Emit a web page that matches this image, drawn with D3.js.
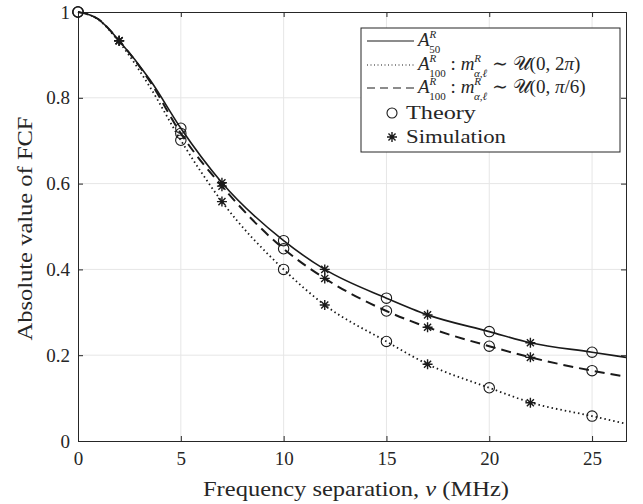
<!DOCTYPE html>
<html lang="en">
<head>
    <meta charset="UTF-8">
    <title>FCF vs frequency separation</title>
    <script src="https://cdnjs.cloudflare.com/ajax/libs/d3/7.8.5/d3.js"></script>
    <style>
        body { margin: 0; background: #fff; }
    </style>
</head>
<body>
    <svg width="643" height="504"></svg>

    <script>
        // Data
        const lineX = [0, 1, 2, 3.5, 5, 7, 10, 12, 15, 17, 20, 22, 25, 26.65];
        const a50 = [1, 0.983, 0.933, 0.842, 0.729, 0.602, 0.467, 0.400, 0.333, 0.294, 0.255, 0.229, 0.207, 0.195];
        const a100Wide = [1, 0.982, 0.930, 0.825, 0.701, 0.558, 0.400, 0.317, 0.232, 0.179, 0.124, 0.090, 0.058, 0.040];
        const a100Narrow = [1, 0.983, 0.933, 0.838, 0.717, 0.594, 0.448, 0.379, 0.303, 0.265, 0.221, 0.195, 0.164, 0.150];

        const theoryX = [0, 5, 10, 15, 20, 25];
        const theoryA50 = [1, 0.729, 0.467, 0.333, 0.255, 0.207];
        const theoryWide = [1, 0.701, 0.400, 0.232, 0.124, 0.058];
        const theoryNarrow = [1, 0.717, 0.448, 0.303, 0.221, 0.164];

        const simX = [2, 7, 12, 17, 22];
        const simA50 = [0.933, 0.602, 0.400, 0.294, 0.229];
        const simWide = [0.933, 0.558, 0.317, 0.179, 0.089];
        const simNarrow = [0.933, 0.594, 0.379, 0.265, 0.195];

        const xTicks = [0, 5, 10, 15, 20, 25];
        const yTicks = [0, 0.2, 0.4, 0.6, 0.8, 1];

        const FONT = '"Liberation Serif", "Times New Roman", "DejaVu Serif", serif';
        const INK = "#262626";

        const svg = d3.select("svg");
        const pl = 78, pr = 626, pt = 12, pb = 441;

        const x = d3.scaleLinear().domain([0, 26.65]).range([pl, pr]);
        const y = d3.scaleLinear().domain([0, 1]).range([pb, pt]);

        // grid
        const grid = svg.append("g");
        grid.selectAll(".gx").data(xTicks.slice(1)).enter().append("line")
            .attr("x1", d => x(d)).attr("x2", d => x(d))
            .attr("y1", pt).attr("y2", pb)
            .attr("stroke", "#e6e6e6").attr("stroke-width", 1);
        grid.selectAll(".gy").data(yTicks.slice(1, -1)).enter().append("line")
            .attr("x1", pl).attr("x2", pr)
            .attr("y1", d => y(d)).attr("y2", d => y(d))
            .attr("stroke", "#e6e6e6").attr("stroke-width", 1);

        // axes (ticks inside, box on)
        const tick = 5;
        const xAxis = d3.axisBottom(x).tickValues(xTicks).tickSize(-tick).tickPadding(11).tickFormat(d3.format("d"));
        const yAxis = d3.axisLeft(y).tickValues(yTicks).tickSize(-tick).tickPadding(8).tickFormat(d => d === 0 || d === 1 ? d : d3.format(".1f")(d));
        const gx = svg.append("g").attr("transform", `translate(0,${pb})`).call(xAxis);
        const gy = svg.append("g").attr("transform", `translate(${pl},0)`).call(yAxis);
        svg.append("g").attr("transform", `translate(0,${pt})`)
            .call(d3.axisTop(x).tickValues(xTicks).tickSize(-tick).tickFormat(""));
        svg.append("g").attr("transform", `translate(${pr},0)`)
            .call(d3.axisRight(y).tickValues(yTicks).tickSize(-tick).tickFormat(""));
        svg.selectAll(".domain").attr("stroke", INK).attr("stroke-width", 1);
        svg.selectAll(".tick line").attr("stroke", INK);
        gx.selectAll("text").attr("font-size", 19).attr("dy", "0.71em");
        gy.selectAll("text").attr("font-size", 19);

        // axis labels, glyphs widened to the width of the original lettering
        svg.append("text").attr("x", 203).attr("y", 496)
            .attr("font-size", 21).attr("textLength", 306).attr("lengthAdjust", "spacingAndGlyphs")
            .html('Frequency separation, <tspan font-style="italic">ν</tspan> (MHz)');
        svg.append("text").attr("transform", `translate(32,${(pt + pb) / 2 + 2}) rotate(-90)`)
            .attr("text-anchor", "middle").attr("font-size", 21)
            .attr("textLength", 224).attr("lengthAdjust", "spacingAndGlyphs")
            .text("Absolute value of FCF");

        // curves
        const line = d3.line().x(d => x(d[0])).y(d => y(d[1])).curve(d3.curveMonotoneX);
        const curves = [
            { v: a50, dash: null, w: 1.6 },
            { v: a100Wide, dash: "1.5,3", w: 1.8 },
            { v: a100Narrow, dash: "10,6", w: 2 }
        ];
        svg.append("g").selectAll("path").data(curves).enter().append("path")
            .attr("d", d => line(d3.zip(lineX, d.v)))
            .attr("fill", "none").attr("stroke", "#1a1a1a")
            .attr("stroke-width", d => d.w)
            .attr("stroke-dasharray", d => d.dash);

        // markers
        const starPath = r => {
            const p = d3.path(), k = r * Math.SQRT1_2;
            p.moveTo(-r, 0); p.lineTo(r, 0);
            p.moveTo(0, -r); p.lineTo(0, r);
            p.moveTo(-k, -k); p.lineTo(k, k);
            p.moveTo(-k, k); p.lineTo(k, -k);
            return p.toString();
        };
        const theoryPts = [theoryA50, theoryWide, theoryNarrow].flatMap(s => d3.zip(theoryX, s));
        const simPts = [simA50, simWide, simNarrow].flatMap(s => d3.zip(simX, s));
        svg.append("g").selectAll("circle").data(theoryPts).enter().append("circle")
            .attr("cx", d => x(d[0])).attr("cy", d => y(d[1])).attr("r", 5.2)
            .attr("fill", "none").attr("stroke", "#1a1a1a").attr("stroke-width", 1.1);
        svg.append("g").selectAll("path").data(simPts).enter().append("path")
            .attr("transform", d => `translate(${x(d[0])},${y(d[1])})`)
            .attr("d", starPath(5))
            .attr("fill", "none").attr("stroke", "#1a1a1a").attr("stroke-width", 1.4);

        // legend
        const lg = svg.append("g");
        lg.append("rect").attr("x", 361).attr("y", 28).attr("width", 259).attr("height", 124)
            .attr("fill", "#fff").attr("stroke", INK).attr("stroke-width", 1);
        const lx0 = 367, lx1 = 414, tx = 418, mx = 392, tx2 = 406;
        // italic A / m with stacked super- and subscript
        const symb = (base, sup, sub, subIt) =>
            `<tspan font-style="italic">${base}</tspan>` +
            `<tspan dy="-8" font-size="11" font-style="italic">${sup}</tspan>` +
            `<tspan dx="-7" dy="15" font-size="11" ${subIt ? 'font-style="italic"' : ''}>${sub}</tspan>`;
        const rows = [
            { y: 41, dash: null, html: symb("A", "R", "50") },
            { y: 65, dash: "1,2.5", html: symb("A", "R", "100") + '<tspan dy="-7"> : </tspan>' + symb("m", "R", "α,ℓ", true) +
                '<tspan dy="-7"> ∼ 𝒰(0, 2</tspan><tspan font-style="italic">π</tspan>)' },
            { y: 88, dash: "8,5", html: symb("A", "R", "100") + '<tspan dy="-7"> : </tspan>' + symb("m", "R", "α,ℓ", true) +
                '<tspan dy="-7"> ∼ 𝒰(0, </tspan><tspan font-style="italic">π</tspan>/6)' }
        ];
        rows.forEach(r => {
            lg.append("line").attr("x1", lx0).attr("x2", lx1).attr("y1", r.y).attr("y2", r.y)
                .attr("stroke", "#1a1a1a").attr("stroke-width", 1.2).attr("stroke-dasharray", r.dash);
            lg.append("text").attr("x", tx).attr("y", r.y + 5).attr("font-size", 19).html(r.html);
        });
        lg.append("circle").attr("cx", mx).attr("cy", 113).attr("r", 5)
            .attr("fill", "none").attr("stroke", "#1a1a1a").attr("stroke-width", 1.1);
        lg.append("text").attr("x", tx2).attr("y", 119).attr("font-size", 19)
            .attr("textLength", 70).attr("lengthAdjust", "spacingAndGlyphs").text("Theory");
        lg.append("path").attr("transform", `translate(${mx},137)`).attr("d", starPath(5))
            .attr("fill", "none").attr("stroke", "#1a1a1a").attr("stroke-width", 1.4);
        lg.append("text").attr("x", tx2).attr("y", 143).attr("font-size", 19)
            .attr("textLength", 100).attr("lengthAdjust", "spacingAndGlyphs").text("Simulation");

        // one serif face everywhere (d3 axes set sans-serif on their groups)
        svg.selectAll("g").attr("font-family", null);
        svg.selectAll("text").attr("font-family", FONT).attr("fill", INK);
    </script>
</body>
</html>
